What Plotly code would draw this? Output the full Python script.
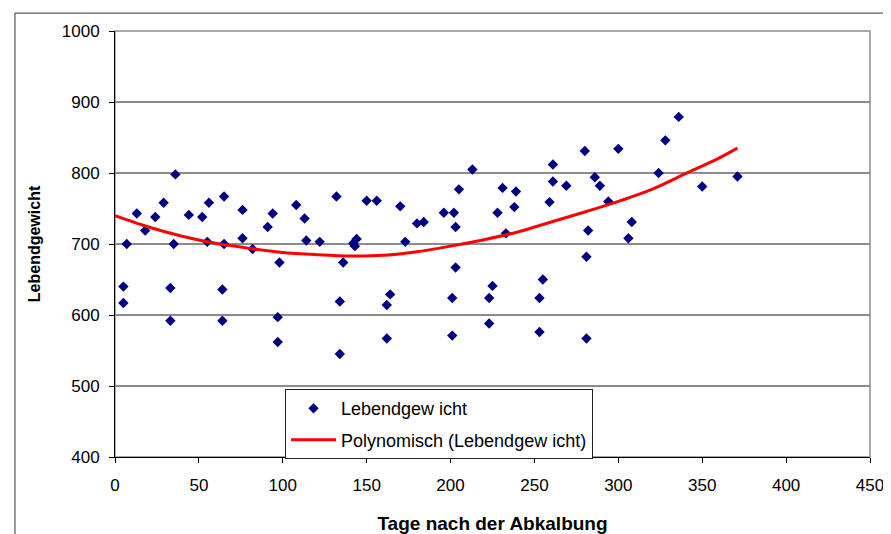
import plotly.graph_objects as go

# Scatter data: days after calving vs live weight
tage = [5, 5, 7, 13, 18, 24, 29, 33, 33, 35, 36, 44, 52, 55, 56, 64, 64, 65, 65,
        76, 76, 82, 91, 94, 97, 97, 98, 108, 113, 114, 122, 132, 134, 134, 136,
        142, 143, 144, 150, 156, 162, 162, 164, 170, 173, 180, 184, 196, 201, 201,
        202, 203, 203, 205, 213, 223, 223, 225, 228, 231, 233, 238, 239, 253, 253,
        255, 259, 261, 261, 269, 280, 281, 281, 282, 286, 289, 294, 300, 306, 308,
        324, 328, 336, 350, 371]
gewicht = [640, 617, 700, 743, 719, 738, 758, 638, 592, 700, 798, 741, 738, 703, 758,
           636, 592, 767, 700, 748, 708, 693, 724, 743, 597, 562, 674, 755, 736, 705,
           703, 767, 619, 545, 674, 701, 697, 707, 761, 761, 614, 567, 629, 753, 703,
           729, 731, 744, 624, 571, 744, 724, 667, 777, 805, 624, 588, 641, 744, 779,
           715, 752, 774, 624, 576, 650, 759, 812, 788, 782, 831, 682, 567, 719, 794,
           782, 760, 834, 708, 731, 800, 846, 879, 781, 795]

# Polynomial trendline
trend_x = [0, 20, 40, 60, 80, 100, 120, 140, 160, 180, 200, 220, 240, 260, 280,
           300, 320, 340, 360, 371]
trend_y = [740, 724, 711, 701, 694, 688, 685, 683, 684, 689, 697, 706, 717, 731,
           745, 760, 777, 799, 821, 835]

x_ticks = [0, 50, 100, 150, 200, 250, 300, 350, 400, 450]
y_ticks = [400, 500, 600, 700, 800, 900, 1000]

FONT = "Liberation Sans, Arial, sans-serif"

fig = go.Figure()
fig.add_trace(go.Scatter(
    x=tage, y=gewicht, mode="markers", name="Lebendgew icht",
    legendgroup="a",
    marker=dict(symbol="diamond", size=8, color="#000080"),
))
fig.add_trace(go.Scatter(
    x=trend_x, y=trend_y, mode="lines", name="Polynomisch (Lebendgew icht)",
    legendgroup="b",
    line=dict(color="#ff0000", width=3, shape="spline", smoothing=0.8),
))

# the page body adds an 8px margin; compensate so the plot lands where the reference has it
fig.update_layout(
    width=883, height=526,
    margin=dict(l=107, r=21, t=23, b=77),
    paper_bgcolor="white", plot_bgcolor="white",
    font=dict(family=FONT, size=17, color="black"),
    showlegend=True,
    legend=dict(
        x=0.2252, y=0.1593, xanchor="left", yanchor="top",
        bgcolor="white", bordercolor="#222222", borderwidth=1,
        font=dict(family=FONT, size=18, color="black"),
        tracegroupgap=5, itemwidth=45,
    ),
    shapes=[
        # plot-area border (gray)
        dict(type="rect", xref="paper", yref="paper", x0=0, x1=1, y0=0, y1=1,
             line=dict(color="#8c8c8c", width=1.5), layer="below"),
        # chart frame (cropped)
        dict(type="rect", xref="paper", yref="paper", x0=-0.1325, x1=1.2,
             y0=-0.5, y1=1.042, line=dict(color="#333333", width=1)),
    ],
)

fig.update_xaxes(
    range=[0, 450], tickvals=x_ticks, ticktext=[str(v) for v in x_ticks],
    showgrid=False, zeroline=False,
    showline=True, linecolor="black", linewidth=1,
    ticks="outside", ticklen=5, tickcolor="black",
    ticklabelstandoff=8,
    tickfont=dict(family=FONT, size=17),
    title=dict(text="<b>Tage nach der Abkalbung</b>", standoff=29,
               font=dict(family=FONT, size=19)),
    automargin=False,
)
fig.update_yaxes(
    range=[400, 1000], tickvals=y_ticks, ticktext=[str(v) for v in y_ticks],
    showgrid=True, gridcolor="#8c8c8c", gridwidth=1.5,
    zeroline=False,
    showline=True, linecolor="black", linewidth=1,
    ticks="outside", ticklen=5, tickcolor="black",
    ticklabelstandoff=6,
    tickfont=dict(family=FONT, size=17),
    title=dict(text="<b>Lebendgewicht</b>", standoff=17,
               font=dict(family=FONT, size=16)),
    automargin=False,
)

fig.write_html("out.html")
